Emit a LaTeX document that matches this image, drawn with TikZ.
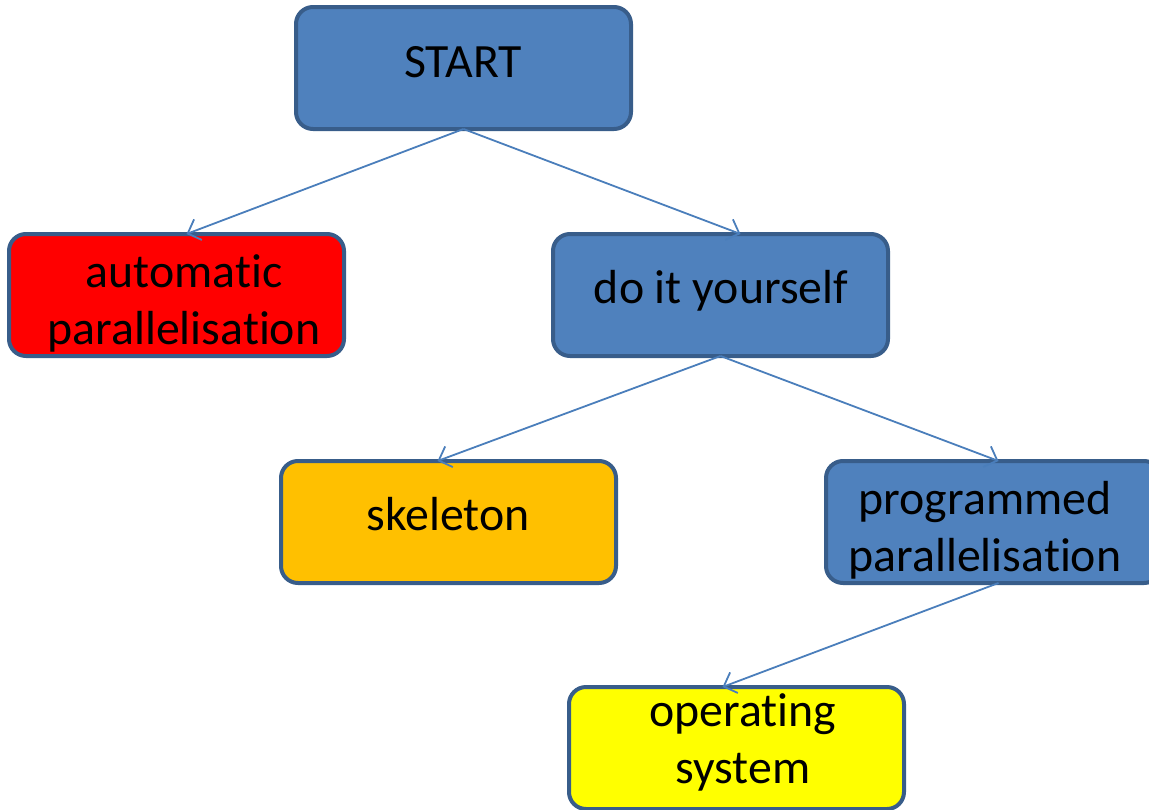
\documentclass[tikz,border=0pt]{standalone}
\usepackage{fontspec}
\setmainfont{Carlito}[Ligatures=NoCommon]
\usetikzlibrary{arrows.meta}
\definecolor{boxblue}{HTML}{4F81BD}
\definecolor{boxedge}{HTML}{385D8A}
\definecolor{boxred}{HTML}{FF0000}
\definecolor{boxorange}{HTML}{FFC000}
\definecolor{boxyellow}{HTML}{FFFF00}
\definecolor{linkblue}{HTML}{4A7EBB}
\tikzset{
  box/.style={draw=boxedge, line width=4pt, rounded corners=17pt,
    minimum width=335pt, minimum height=122pt, inner sep=0pt, outer sep=0pt},
  lbl/.style={anchor=base, inner sep=0pt, align=center,
    font=\fontsize{47.8}{57}\selectfont},
  link/.style={draw=linkblue, line width=1.8pt,
    -{Straight Barb[length=11pt,width=22pt,line width=1.8pt]}},
}
\begin{document}
\begin{tikzpicture}[x=1pt,y=-1pt]
\useasboundingbox (0,0) rectangle (1149,809);
\clip (0,0) rectangle (1149,809);
% boxes
\node[box, fill=boxblue]   (start) at (463.5,68) {};
\node[box, fill=boxred]    (auto)  at (176.5,295) {};
\node[box, fill=boxblue]   (diy)   at (720.5,295) {};
\node[box, fill=boxorange] (skel)  at (448.5,522) {};
\node[box, fill=boxblue]   (prog)  at (993.5,522) {};
\node[box, fill=boxyellow] (os)    at (736.5,748) {};
% labels (anchored on the baseline of the last line)
\node[lbl] (startt) at (463,77)  {START};
\node[lbl] (autot)  at (184,344) {automatic\\parallelisation};
\node[lbl] (diyt)   at (721,303) {do it yourself};
\node[lbl] (skelt)  at (448,530) {skeleton};
\node[lbl] (progt)  at (985,571) {programmed\\parallelisation};
\node[lbl] (ost)    at (743,783) {operating\\system};
% connectors
\draw[link] (start.south) -- ([xshift=10pt]auto.north);
\draw[link] (start.south) -- ([xshift=20pt]diy.north);
\draw[link] (diy.south) -- ([xshift=-11pt]skel.north);
\draw[link] (diy.south) -- ([xshift=5pt]prog.north);
\draw[link] ([xshift=5pt]prog.south) -- ([xshift=-14pt]os.north);
\end{tikzpicture}
\end{document}
